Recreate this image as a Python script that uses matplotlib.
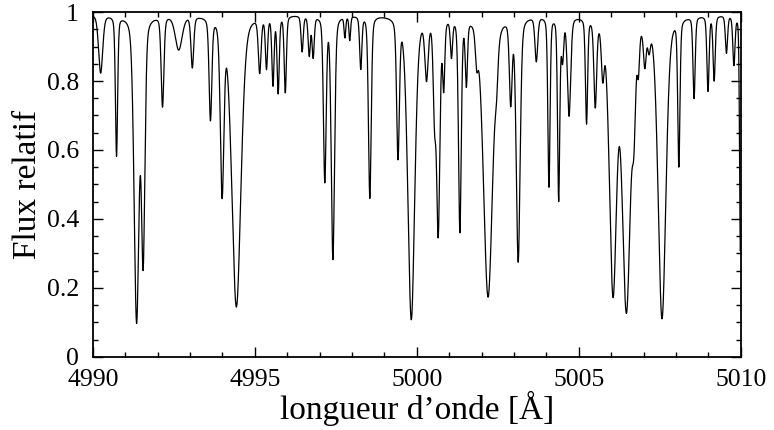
import matplotlib
matplotlib.use("Agg")
import matplotlib.pyplot as plt
from matplotlib.ticker import MultipleLocator, FormatStrFormatter
import numpy as np

# raies d'absorption : centre [A], flux au minimum, largeur FWHM [A]
centres = [4990.24, 4990.73, 4991.35, 4991.55, 4992.15, 4992.65, 4993.07, 4993.63,
           4993.99, 4994.43, 4995.15, 4995.36, 4995.56, 4995.72, 4995.94, 4996.46,
           4996.68, 4996.80, 4997.16, 4997.41, 4997.78, 4997.93, 4998.27, 4998.55,
           4999.42, 4999.83, 5000.30, 5000.55, 5000.66, 5000.83, 5001.07, 5001.33,
           5001.53, 5001.85, 5002.20, 5002.46, 5002.90, 5003.13, 5003.69, 5004.08,
           5004.38, 5004.50, 5004.70, 5005.24, 5005.51, 5005.74, 5006.06, 5006.47,
           5006.70, 5006.84, 5007.04, 5007.17, 5007.57, 5008.09, 5008.56, 5008.99,
           5009.18, 5009.56, 5009.79, 5009.99]
flux_min = [0.83, 0.59, 0.10, 0.27, 0.735, 0.90, 0.85, 0.70,
            0.48, 0.146, 0.84, 0.85, 0.80, 0.776, 0.776, 0.895,
            0.885, 0.88, 0.515, 0.286, 0.94, 0.93, 0.846, 0.465,
            0.59, 0.109, 0.827, 0.72, 0.36, 0.80, 0.89, 0.368,
            0.81, 0.90, 0.175, 0.90, 0.755, 0.28, 0.87, 0.50,
            0.46, 0.88, 0.71, 0.69, 0.745, 0.85, 0.18, 0.131,
            0.74, 0.88, 0.88, 0.93, 0.112, 0.566, 0.76, 0.78,
            0.81, 0.89, 0.856, 0.31]
largeurs = [0.15, 0.08, 0.18, 0.13, 0.10, 0.25, 0.10, 0.10,
            0.13, 0.33, 0.10, 0.08, 0.08, 0.08, 0.08, 0.08,
            0.08, 0.08, 0.10, 0.12, 0.06, 0.06, 0.08, 0.10,
            0.10, 0.25, 0.12, 0.10, 0.12, 0.08, 0.08, 0.10,
            0.08, 0.10, 0.33, 0.10, 0.10, 0.14, 0.10, 0.08,
            0.08, 0.08, 0.12, 0.08, 0.10, 0.10, 0.26, 0.30,
            0.12, 0.08, 0.10, 0.10, 0.28, 0.08, 0.08, 0.08,
            0.08, 0.08, 0.08, 0.06]

continuum = 0.995
eta = 0.3  # part lorentzienne du profil

lam = np.linspace(4990, 5010, 4001)
flux = np.full_like(lam, continuum)
for c, fm, w in zip(centres, flux_min, largeurs):
    u = (lam - c) / w
    prof = eta / (1 + 4 * u**2) + (1 - eta) * np.exp(-4 * np.log(2) * u**2)
    flux *= 1 - (1 - fm) * prof

plt.rcParams['font.family'] = ['Liberation Serif', 'DejaVu Serif']

fig = plt.figure(figsize=(7.74, 4.30), dpi=100)
ax = fig.add_axes([0.120, 0.170, 0.837, 0.802])
ax.plot(lam, flux, color='black', lw=0.9)

ax.set_xlim(4990, 5010)
ax.set_ylim(0, 1)
ax.xaxis.set_major_locator(MultipleLocator(5))
ax.xaxis.set_minor_locator(MultipleLocator(1))
ax.yaxis.set_major_locator(MultipleLocator(0.2))
ax.yaxis.set_minor_locator(MultipleLocator(0.05))
ax.yaxis.set_major_formatter(FormatStrFormatter('%g'))
ax.tick_params(which='both', direction='in', top=True, right=True, labelsize=18.5, width=1)
ax.tick_params(which='major', length=7)
ax.tick_params(which='minor', length=3.5)
ax.tick_params(axis='x', which='major', pad=9)
ax.tick_params(axis='y', which='major', pad=10)
for s in ax.spines.values():
    s.set_linewidth(1.3)

ax.set_xlabel('longueur d’onde [Å]', fontsize=24, labelpad=0)
ax.set_ylabel('Flux relatif', fontsize=24, labelpad=3)

fig.savefig('out.png', dpi=100)
